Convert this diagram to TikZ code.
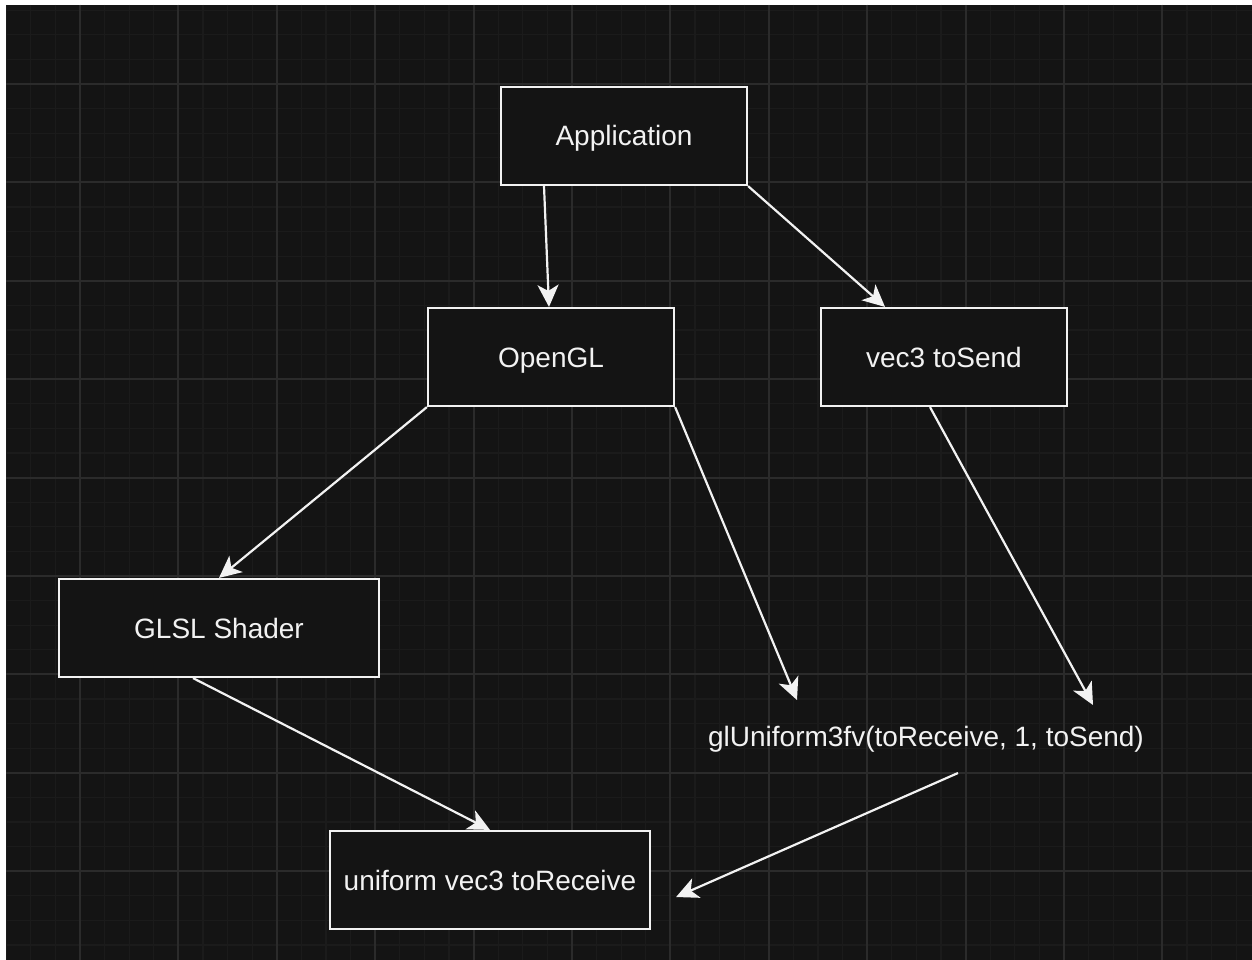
\documentclass[tikz,border=0pt]{standalone}
\usepackage{fontspec}
\setmainfont{Liberation Sans}
\usetikzlibrary{arrows.meta,calc}
\definecolor{bgc}{HTML}{141414}
\definecolor{minorc}{HTML}{1B1B1B}
\definecolor{majorc}{HTML}{2B2B2B}
\definecolor{fg}{HTML}{F2F2F2}
\tikzset{
  box/.style={draw=fg, line width=2.2pt, fill=bgc, rectangle, inner sep=0pt, text=fg,
    font=\fontsize{28}{34}\selectfont, text height=20pt, text depth=0pt},
  lbl/.style={text=fg, inner sep=0pt, font=\fontsize{28}{34}\selectfont,
    text height=20pt, text depth=0pt},
  conn/.style={draw=fg, line width=2.2pt, -{Stealth[length=22pt,width=21pt,inset=6pt]}},
  minorline/.style={draw=minorc, line width=1.3pt},
  majorline/.style={draw=majorc, line width=2pt}
}
\begin{document}
\begin{tikzpicture}[x=1pt,y=-1pt]
\useasboundingbox (0,0) rectangle (1252,960);
\fill[white] (0,0) rectangle (1252,960);
\fill[bgc] (6,5) rectangle (1252,960);
\begin{scope}
\clip (6,5) rectangle (1252,960);
\foreach \i in {-3,...,48} { \draw[minorline] ({80+\i*24.6},5) -- ({80+\i*24.6},960); }
\foreach \i in {-3,...,36} { \draw[minorline] (6,{84+\i*24.6}) -- (1252,{84+\i*24.6}); }
\foreach \i in {0,...,11} { \draw[majorline] ({80+\i*98.4},5) -- ({80+\i*98.4},960); }
\foreach \i in {0,...,8} { \draw[majorline] (6,{84+\i*98.4}) -- (1252,{84+\i*98.4}); }
\end{scope}

\node[box, minimum width=246pt, minimum height=98pt] (app) at (624,136) {Application};
\node[box, minimum width=246pt, minimum height=98pt] (ogl) at (551,357) {OpenGL};
\node[box, minimum width=246pt, minimum height=98pt] (vec) at (944,357) {vec3 toSend};
\node[box, minimum width=320pt, minimum height=98pt] (glsl) at (219,628) {GLSL Shader};
\node[box, minimum width=320pt, minimum height=98pt] (uni) at (490,880) {uniform vec3 toReceive};
\node[lbl] (glu) at (926,736) {glUniform3fv(toReceive, 1, toSend)};

\draw[conn] ([xshift=-80pt]app.south) -- ([xshift=-2pt]ogl.north);
\draw[conn] (app.south east) -- ([xshift=-59pt]vec.north);
\draw[conn] (ogl.south west) -- (glsl.north);
\draw[conn] (ogl.south east) -- ($(glu.center)+(-129,-36)$);
\draw[conn] ([xshift=-14pt]vec.south) -- ($(glu.center)+(167,-31)$);
\draw[conn] ([xshift=-26pt]glsl.south) -- (uni.north);
\draw[conn] ($(glu.center)+(32,37)$) -- ($(uni.east)+(25,17)$);
\end{tikzpicture}
\end{document}
